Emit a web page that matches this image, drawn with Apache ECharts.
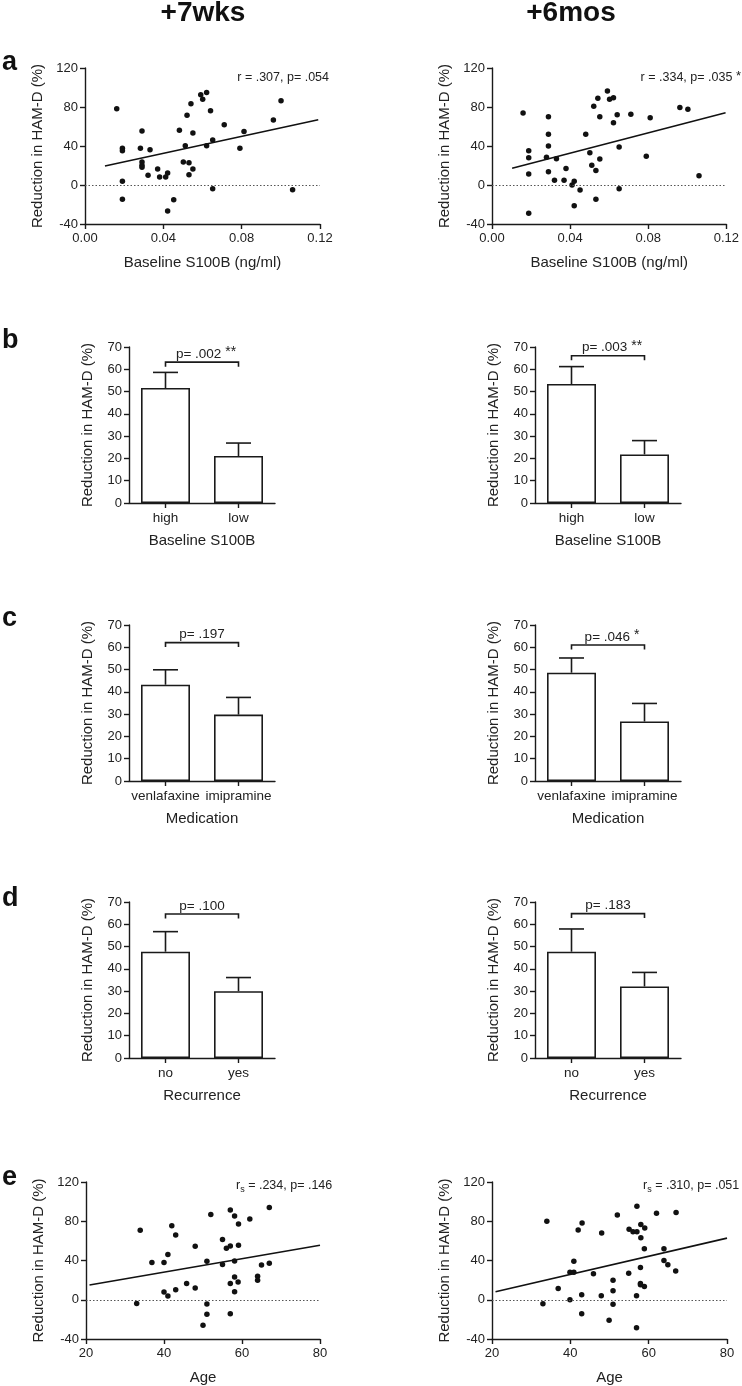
<!DOCTYPE html>
<html>
<head>
<meta charset="utf-8">
<script src="https://cdn.jsdelivr.net/npm/echarts@6/dist/echarts.min.js"></script>
<style>
html,body{margin:0;padding:0;background:#fff;}
#chart{width:742px;height:1386px;}
</style>
</head>
<body>
<div id="chart"></div>
<script>
// ---------------- DATA ----------------
const columnTitles = ['+7wks', '+6mos'];
const panelLetters = ['a', 'b', 'c', 'd', 'e'];

// a: Baseline S100B (ng/ml) vs reduction in HAM-D (%)
const wk7S100B = [[0.0162,78.3],[0.0191,37.6],[0.0191,35.2],[0.0191,3.8],[0.0191,-14.7],[0.0283,37.6],[0.0291,55.4],[0.0291,23.6],[0.0291,20.2],[0.0291,18.1],[0.0322,9.9],[0.0332,36.2],[0.0371,16.4],[0.0381,8.2],[0.0412,8.2],[0.0422,12.3],[0.0422,-26.7],[0.0453,-15.0],[0.0482,56.1],[0.0502,23.6],[0.0512,40.3],[0.0521,71.5],[0.0531,22.9],[0.0531,10.6],[0.0541,83.4],[0.0551,53.3],[0.0551,16.4],[0.0591,92.6],[0.0601,87.9],[0.0621,95.0],[0.0621,40.3],[0.0641,76.2],[0.0652,46.2],[0.0652,-3.8],[0.0711,61.9],[0.0791,37.6],[0.0812,55.0],[0.0962,66.7],[0.1001,86.5],[0.1060,-4.8]];
const mo6S100B = [[0.0159,73.8],[0.0188,35.2],[0.0188,28.0],[0.0188,11.3],[0.0188,-29.1],[0.0279,28.4],[0.0289,70.1],[0.0289,52.0],[0.0289,40.0],[0.0289,13.7],[0.0330,27.0],[0.0320,4.8],[0.0369,4.8],[0.0379,16.8],[0.0410,0],[0.0421,3.8],[0.0421,-21.2],[0.0451,-5.1],[0.0480,52.0],[0.0501,33.2],[0.0511,20.2],[0.0521,80.7],[0.0532,15.0],[0.0532,-14.7],[0.0542,88.9],[0.0552,70.1],[0.0552,26.7],[0.0591,96.4],[0.0602,87.9],[0.0622,89.6],[0.0622,63.9],[0.0641,72.1],[0.0651,39.0],[0.0651,-3.8],[0.0711,72.5],[0.0790,29.4],[0.0810,69.1],[0.0962,79.5],[0.1003,77.6],[0.1060,9.5]];
const wk7S100BFit = [[0.0102,19.5],[0.1191,67.0]];
const mo6S100BFit = [[0.0103,17.1],[0.1196,74.1]];
const wk7S100BStat = ['r = .307, p= .054', ''];
const mo6S100BStat = ['r = .334, p= .035', '*'];

// e: Age vs reduction in HAM-D (%)
const wk7Age = [[33.9,70.8],[36.9,38.0],[40.0,38.0],[41.0,46.1],[42.0,75.3],[43.0,66.1],[48.0,54.6],[51.0,39.3],[52.0,86.8],[55.0,61.4],[56.0,52.5],[57.0,54.9],[57.0,91.5],[58.1,85.4],[59.1,77.3],[59.1,55.6],[58.1,39.5],[55.0,35.9],[62.0,82.4],[67.0,93.9],[65.0,35.4],[67.0,37.1],[64.0,23.9],[64.0,20.0],[58.1,23.3],[59.0,18.0],[57.0,16.5],[58.1,8.1],[45.8,16.5],[48.0,12.0],[40.0,7.8],[41.0,3.9],[43.0,10.2],[33.0,-3.7],[51.0,-4.4],[51.0,-14.9],[57.0,-14.2],[50.0,-26.1]];
const mo6Age = [[34.0,80.0],[36.9,11.5],[39.9,28.1],[40.9,28.1],[40.9,39.3],[39.9,0],[42.0,71.2],[43.0,78.3],[42.9,5.1],[42.9,-14.2],[45.9,26.4],[48.0,68.1],[47.9,4.1],[49.9,-20.8],[50.9,20.0],[50.9,9.2],[50.9,-4.7],[52.0,86.4],[55.0,71.9],[54.9,27.1],[56.0,69.2],[57.0,69.2],[57.0,95.3],[58.0,76.6],[58.0,63.1],[57.9,32.9],[57.9,16.6],[57.9,15.3],[58.9,13.6],[59.0,73.2],[58.9,51.9],[56.9,4.1],[56.9,-28.5],[62.0,88.1],[63.9,51.9],[63.9,40.0],[64.9,35.6],[67.0,88.8],[66.9,29.2],[33.0,-4.0]];
const wk7AgeFit = [[20.9,15.1],[80,55.5]];
const mo6AgeFit = [[20.9,8.1],[80,62.8]];

// b: Baseline S100B groups
const catS100B = ['high', 'low'];
const wk7S100BMean = [51.6, 21.1];
const wk7S100BUpper = [58.6, 26.9];
const mo6S100BMean = [53.4, 21.8];
const mo6S100BUpper = [61.2, 28.0];
// c: Medication
const catMed = ['venlafaxine', 'imipramine'];
const wk7MedMean = [43.2, 29.8];
const wk7MedUpper = [49.9, 37.5];
const mo6MedMean = [48.6, 26.7];
const mo6MedUpper = [55.2, 34.8];
// d: Recurrence
const catRec = ['no', 'yes'];
const wk7RecMean = [47.7, 30.0];
const wk7RecUpper = [56.7, 36.1];
const mo6RecMean = [47.7, 32.1];
const mo6RecUpper = [57.9, 38.4];

// comparison brackets: [bracket level, p text, stars]
const bracketLevels = [63.2, 66.1, 62.1, 61.0, 64.6, 64.8];
const bracketP = ['p= .002', 'p= .003', 'p= .197', 'p= .046', 'p= .100', 'p= .183'];
const bracketStars = ['**', '**', '', '*', '', ''];

const yTicksScatter = [-40, 120, 40];  // min, max, interval
const yTicksBar = [0, 70, 10];

// ---------------- CHART ----------------
const FONT = '"Liberation Sans", Arial, Helvetica, sans-serif';
const INK = '#1a1a1a';
const TXT = '#222';

const chart = echarts.init(document.getElementById('chart'), null, {renderer: 'canvas'});

const grids = [
  {left: 85, top: 68, width: 235, height: 156},
  {left: 492, top: 68, width: 235, height: 156},
  {left: 129, top: 347, width: 146, height: 156},
  {left: 535, top: 347, width: 146, height: 156},
  {left: 129, top: 625, width: 146, height: 156},
  {left: 535, top: 625, width: 146, height: 156},
  {left: 129, top: 902, width: 146, height: 156},
  {left: 535, top: 902, width: 146, height: 156},
  {left: 86, top: 1182, width: 234, height: 157},
  {left: 492, top: 1182, width: 235, height: 157}
];

const axisLine = {show: true, onZero: false, lineStyle: {color: INK, width: 1.4}};
const axisTick = {show: true, inside: false, length: 5, lineStyle: {color: INK, width: 1.4}};
const labelBase = {color: TXT, fontSize: 13, fontFamily: FONT, margin: 8};
const nameStyle = {color: TXT, fontSize: 15, fontFamily: FONT};
const yName = 'Reduction in HAM-D (%)';

const xAxes = [], yAxes = [], series = [];

function scatterPanel(gi, pts, fit, xmin, xmax, xint, xfmt, xname) {
  xAxes.push({
    gridIndex: gi, type: 'value', min: xmin, max: xmax, interval: xint,
    axisLine, axisTick, splitLine: {show: false},
    axisLabel: Object.assign({}, labelBase, {formatter: xfmt}),
    name: xname, nameLocation: 'middle', nameGap: 31, nameTextStyle: nameStyle
  });
  yAxes.push({
    gridIndex: gi, type: 'value', min: yTicksScatter[0], max: yTicksScatter[1], interval: yTicksScatter[2],
    axisLine, axisTick, splitLine: {show: false},
    axisLabel: Object.assign({}, labelBase, {margin: 7}),
    name: yName, nameLocation: 'middle', nameGap: 40, nameRotate: 90, nameTextStyle: nameStyle
  });
  series.push({
    type: 'scatter', xAxisIndex: gi, yAxisIndex: gi, data: pts,
    symbolSize: 5.5, itemStyle: {color: '#111', opacity: 1},
    markLine: {
      silent: true, symbol: 'none', label: {show: false},
      lineStyle: {color: '#555', type: [1.5, 2], width: 1}, data: [{yAxis: 0}]
    },
    z: 3
  });
  series.push({
    type: 'line', xAxisIndex: gi, yAxisIndex: gi, data: fit,
    symbol: 'none', lineStyle: {color: '#111', width: 1.6}, z: 4
  });
}

function barPanel(gi, cats, means, upper, bi, xname) {
  xAxes.push({
    gridIndex: gi, type: 'category', data: cats, boundaryGap: true,
    axisLine, axisTick: Object.assign({}, axisTick, {alignWithLabel: true}),
    splitLine: {show: false},
    axisLabel: Object.assign({}, labelBase, {fontSize: 13.5, margin: 8, interval: 0}),
    name: xname, nameLocation: 'middle', nameGap: 30, nameTextStyle: nameStyle
  });
  yAxes.push({
    gridIndex: gi, type: 'value', min: yTicksBar[0], max: yTicksBar[1], interval: yTicksBar[2],
    axisLine, axisTick, splitLine: {show: false},
    axisLabel: Object.assign({}, labelBase, {margin: 7}),
    name: yName, nameLocation: 'middle', nameGap: 34, nameRotate: 90, nameTextStyle: nameStyle
  });
  series.push({
    type: 'bar', xAxisIndex: gi, yAxisIndex: gi, data: means, barWidth: 49,
    itemStyle: {color: '#fff', borderColor: INK, borderWidth: 1.6}, z: 2
  });
  series.push({
    type: 'custom', xAxisIndex: gi, yAxisIndex: gi,
    data: cats.map((c, i) => [i, means[i], upper[i]]),
    encode: {x: 0, y: [1, 2]},
    renderItem: function (params, api) {
      const p0 = api.coord([api.value(0), api.value(1)]);
      const p1 = api.coord([api.value(0), api.value(2)]);
      const half = 12.5;
      return {type: 'group', children: [
        {type: 'line', shape: {x1: p0[0], y1: p0[1], x2: p1[0], y2: p1[1]}, style: {stroke: INK, lineWidth: 1.6}},
        {type: 'line', shape: {x1: p1[0] - half, y1: p1[1], x2: p1[0] + half, y2: p1[1]}, style: {stroke: INK, lineWidth: 1.6}}
      ]};
    },
    z: 3
  });
  series.push({
    type: 'custom', xAxisIndex: gi, yAxisIndex: gi,
    data: [[0, 1, bracketLevels[bi]]],
    encode: {x: 0, y: 2},
    renderItem: function (params, api) {
      const pl = api.coord([api.value(0), api.value(2)]);
      const pr = api.coord([api.value(1), api.value(2)]);
      const drop = 4.5;
      const stars = bracketStars[bi];
      return {type: 'group', children: [
        {type: 'polyline', shape: {points: [[pl[0], pl[1] + drop], [pl[0], pl[1]], [pr[0], pr[1]], [pr[0], pr[1] + drop]]},
         style: {stroke: INK, lineWidth: 1.6, fill: null}},
        {type: 'text', x: (pl[0] + pr[0]) / 2 + (stars ? 4 : 0), y: pl[1] - 9,
         style: {
           text: '{p|' + bracketP[bi] + '}' + (stars ? '{s| ' + stars + '}' : ''),
           align: 'center', verticalAlign: 'middle',
           rich: {
             p: {fontSize: 13.5, fontFamily: FONT, fill: TXT, lineHeight: 16, verticalAlign: 'bottom'},
             s: {fontSize: 14, fontFamily: FONT, fill: TXT, lineHeight: 16, verticalAlign: 'top', padding: [0, 0, 6, 0]}
           }
         }}
      ]};
    },
    z: 3
  });
}

const fmt2 = v => v.toFixed(2);
const fmt0 = v => String(v);

scatterPanel(0, wk7S100B, wk7S100BFit, 0, 0.12, 0.04, fmt2, 'Baseline S100B (ng/ml)');
scatterPanel(1, mo6S100B, mo6S100BFit, 0, 0.12, 0.04, fmt2, 'Baseline S100B (ng/ml)');
barPanel(2, catS100B, wk7S100BMean, wk7S100BUpper, 0, 'Baseline S100B');
barPanel(3, catS100B, mo6S100BMean, mo6S100BUpper, 1, 'Baseline S100B');
barPanel(4, catMed, wk7MedMean, wk7MedUpper, 2, 'Medication');
barPanel(5, catMed, mo6MedMean, mo6MedUpper, 3, 'Medication');
barPanel(6, catRec, wk7RecMean, wk7RecUpper, 4, 'Recurrence');
barPanel(7, catRec, mo6RecMean, mo6RecUpper, 5, 'Recurrence');
scatterPanel(8, wk7Age, wk7AgeFit, 20, 80, 20, fmt0, 'Age');
scatterPanel(9, mo6Age, mo6AgeFit, 20, 80, 20, fmt0, 'Age');

// ----- text overlays -----
const graphic = [];
graphic.push({type: 'text', x: 203, y: 13, style: {text: columnTitles[0], font: 'bold 28px ' + FONT, fill: '#111', align: 'center', verticalAlign: 'middle'}});
graphic.push({type: 'text', x: 571, y: 13, style: {text: columnTitles[1], font: 'bold 28px ' + FONT, fill: '#111', align: 'center', verticalAlign: 'middle'}});
const letterY = [63, 341, 619, 899, 1178];
panelLetters.forEach((l, i) => {
  graphic.push({type: 'text', x: 2, y: letterY[i], style: {text: l, font: 'bold 27px ' + FONT, fill: '#111', align: 'left', verticalAlign: 'middle'}});
});
const richStat = {
  t: {fontSize: 12.5, fontFamily: FONT, fill: TXT, lineHeight: 16, verticalAlign: 'middle'},
  sub: {fontSize: 9, fontFamily: FONT, fill: TXT, lineHeight: 16, verticalAlign: 'bottom', padding: [6, 0, 0, 0]},
  st: {fontSize: 13, fontFamily: FONT, fill: TXT, lineHeight: 16, verticalAlign: 'top', padding: [0, 0, 6, 0]}
};
graphic.push({type: 'text', x: 329, y: 78, style: {text: '{t|' + wk7S100BStat[0] + '}', rich: richStat, align: 'right', verticalAlign: 'middle'}});
graphic.push({type: 'text', x: 741, y: 78, style: {text: '{t|' + mo6S100BStat[0] + '}{st| ' + mo6S100BStat[1] + '}', rich: richStat, align: 'right', verticalAlign: 'middle'}});
graphic.push({type: 'text', x: 236, y: 1186, style: {text: '{t|r}{sub|s}{t| = .234, p= .146}', rich: richStat, align: 'left', verticalAlign: 'middle'}});
graphic.push({type: 'text', x: 643, y: 1186, style: {text: '{t|r}{sub|s}{t| = .310, p= .051}', rich: richStat, align: 'left', verticalAlign: 'middle'}});

chart.setOption({
  backgroundColor: '#fff',
  animation: false,
  grid: grids,
  xAxis: xAxes,
  yAxis: yAxes,
  series: series,
  graphic: graphic
});
</script>
</body>
</html>
